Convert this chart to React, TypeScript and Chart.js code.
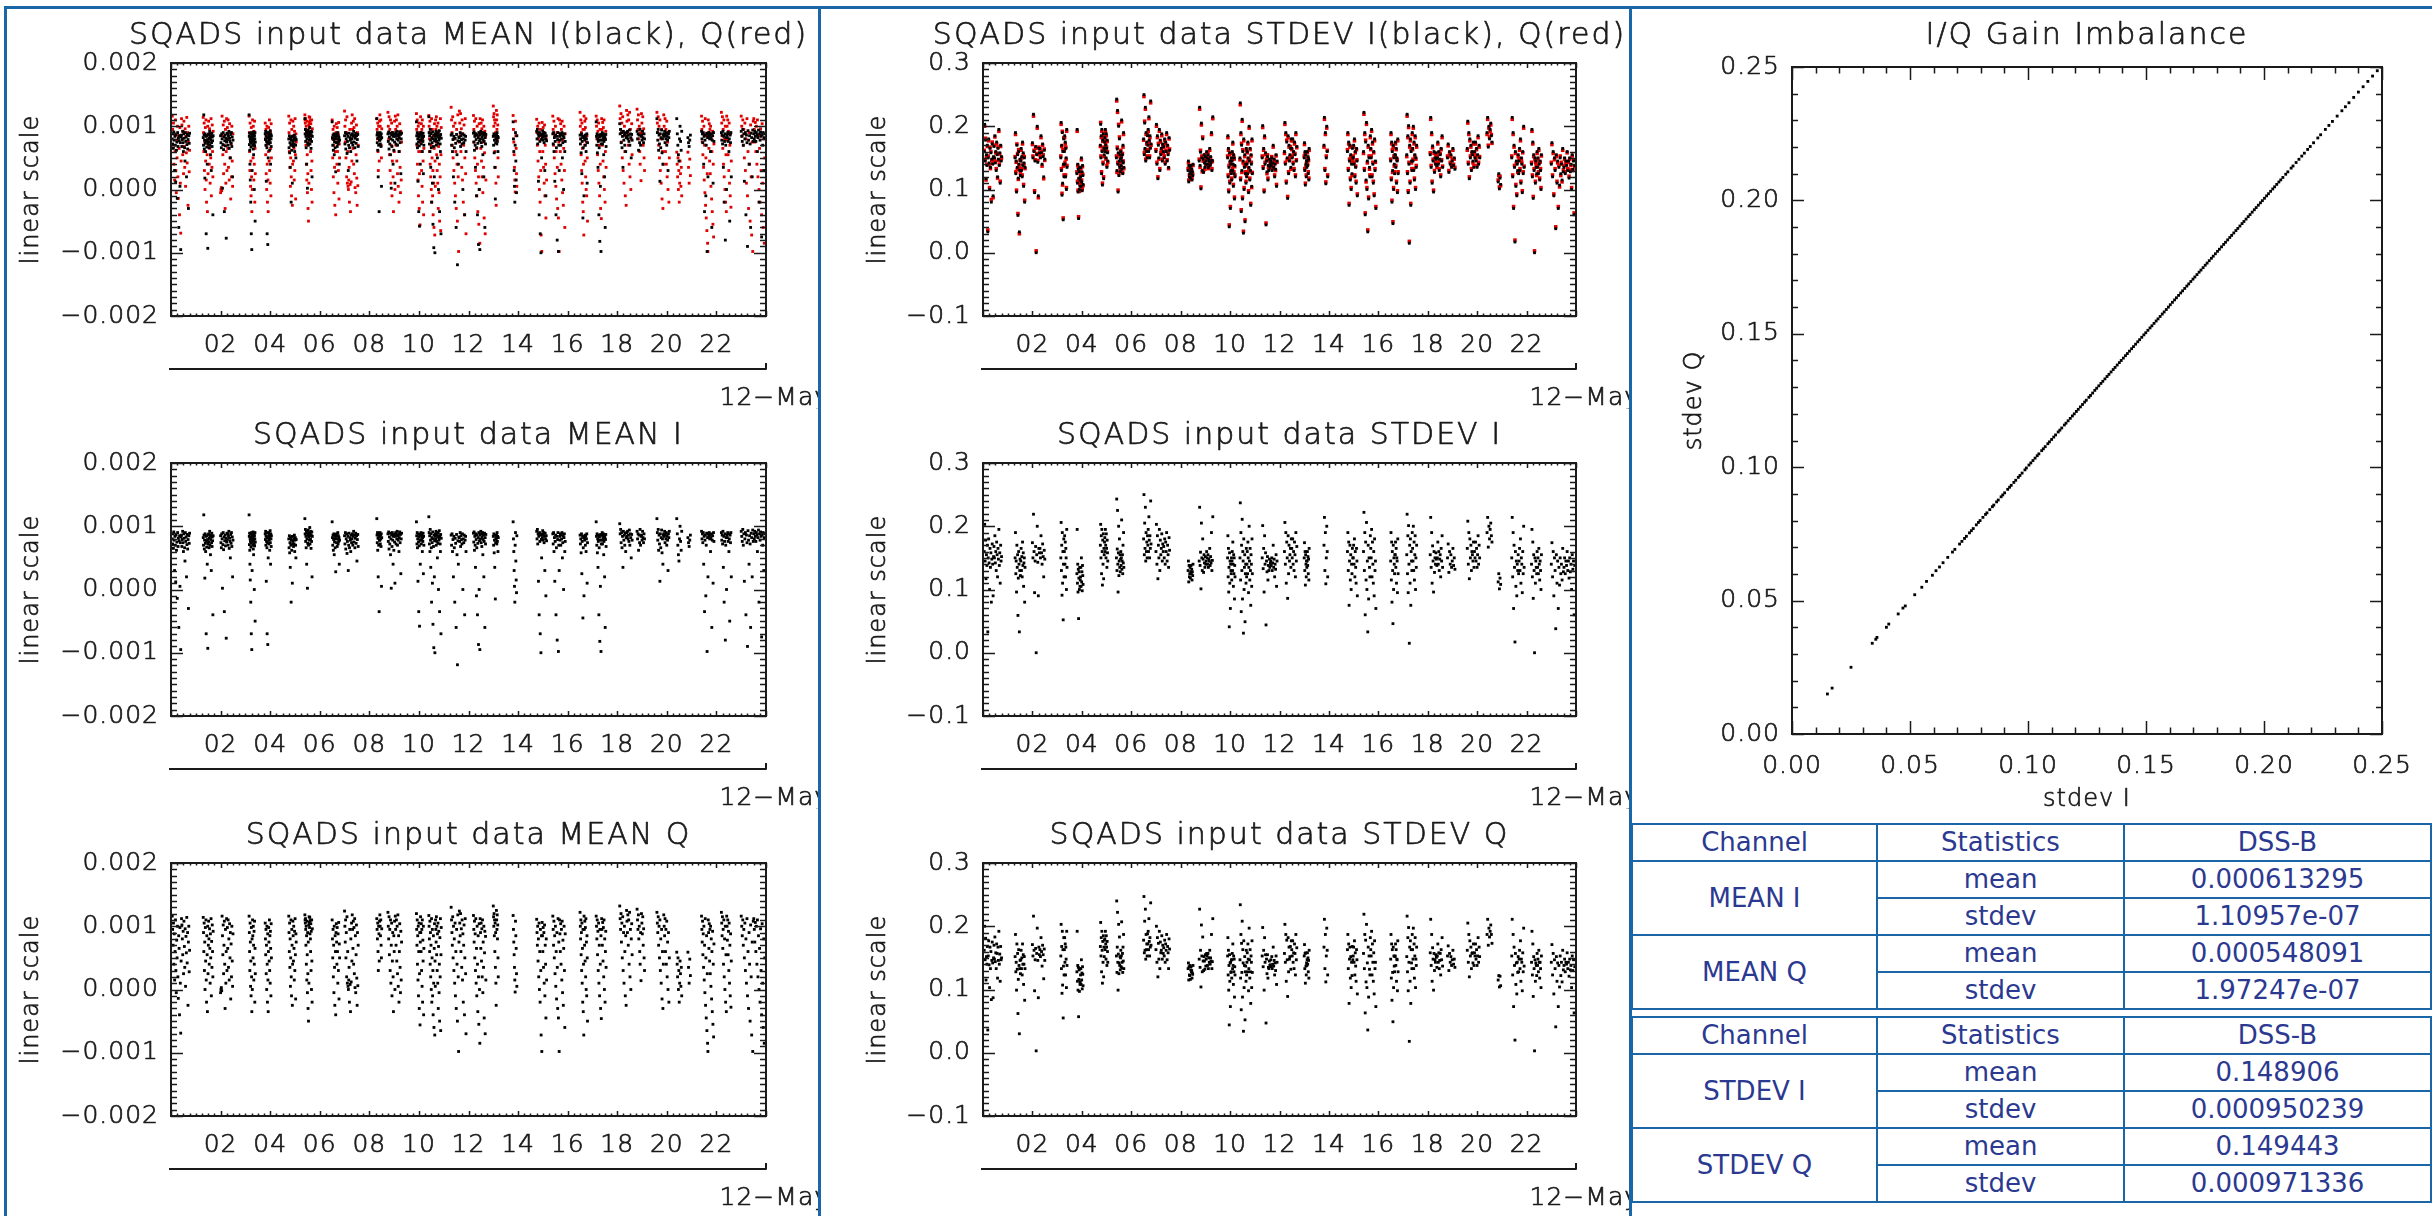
import React, { useEffect, useRef } from "react";
import { Chart, registerables } from "chart.js";

Chart.register(...registerables);

// ---------------------------------------------------------------- styling
const FONT = '"DejaVu Sans", sans-serif';
const FRAME_BLUE = "#1a66a6";
const TEXT_NAVY = "#2b3990";
const INK = "#1a1a1a";
const I_BLACK = "#000000";
const Q_RED = "#e00000";

// ---------------------------------------------------------------- axis ticks / labels
const DATE_LABEL = "12\u2212May";
const HOUR_TICK_VALUES = [2, 4, 6, 8, 10, 12, 14, 16, 18, 20, 22];
const HOUR_TICK_LABELS = ["02", "04", "06", "08", "10", "12", "14", "16", "18", "20", "22"];
const HOUR_MAJOR = [0, 2, 4, 6, 8, 10, 12, 14, 16, 18, 20, 22, 24];
const MEAN_TICK_VALUES = [-0.002, -0.001, 0, 0.001, 0.002];
const MEAN_TICK_LABELS = ["\u22120.002", "\u22120.001", "0.000", "0.001", "0.002"];
const STDEV_TICK_VALUES = [-0.1, 0, 0.1, 0.2, 0.3];
const STDEV_TICK_LABELS = ["\u22120.1", "0.0", "0.1", "0.2", "0.3"];
const GAIN_TICK_VALUES = [0, 0.05, 0.1, 0.15, 0.2, 0.25];
const GAIN_TICK_LABELS = ["0.00", "0.05", "0.10", "0.15", "0.20", "0.25"];

// ---------------------------------------------------------------- data
// acquisition segments (hours of 12-May); samples are evenly spaced inside each segment
const SEGMENT_START = [0.05, 1.3, 2.0, 3.15, 3.8, 4.75, 5.4, 6.5, 7.0, 8.3, 8.75, 9.9, 10.4, 11.3, 12.2, 13.0, 13.8, 14.75, 15.4, 16.5, 17.15, 18.1, 18.8, 19.6, 20.4, 20.85, 21.4, 22.2, 23.0];
const SEGMENT_END = [0.75, 1.7, 2.5, 3.4, 4.05, 5.05, 5.7, 6.8, 7.55, 8.5, 9.3, 10.2, 10.9, 11.9, 12.7, 13.2, 13.95, 15.15, 15.9, 16.8, 17.55, 18.6, 19.1, 20.1, 20.6, 20.95, 21.9, 22.6, 23.95];

// MEAN values in units of 1e-5
const MEAN_UNIT = 1e-5;
const MEAN_I = [
  [80, 72, 88, 65, 91, 78, 30, 84, 70, 12, 86, 62, 75, -14, 90, 68, 81, -60, 77, 85, 5, 74, -95, 83, 86, 68, 79, 92, 74, 60, 88, 81, 66, 45, 90, 76, 83, 20, 71, 87, 64, 79, -30, 85, 73, 89],
  [82, 70, 118, 86, 64, 78, 18, 88, 73, 60, 84, -70, 76, 67, 85, 40, 79, -93, 72, 87, 75, 88, 66, 81, 92, 70, 84, 55, 79, 86, 30, 74, 89, 68, 83, 77, -40, 85],
  [85, 74, 66, 88, 80, 2, 71, 90, 63, 83, -35, 77, 86, 69, 81, -77, 75, 89, 79, 88, 70, 84, 92, 65, 81, 76, 50, 87, 73, 90, 68, 83, 20, 78],
  [118, 84, 71, 89, 62, 40, 80, 15, 76, 88, -20, 67, 83, -70, 74, 90, -95, 79, 30, 86, 82, 70, 88, 76, 91, 64, 84, 55, 79, 87, 72, 0, 85, 69, 80, 90, -50, 75],
  [88, 79, 92, 70, 84, 13, 76, 90, 66, -70, 82, 74, -87, 89, 50, 81, 84, 72, 90, 78, 86, 62, 81, 93, 74, 40, 88, 80, 68, 85],
  [80, 66, 85, 58, 74, 35, 82, 70, -20, 78, 62, 84, 10, 72, 76, 84, 68, 80, 72, 86, 60, 78, 82, 70, 50, 79],
  [112, 88, 95, 76, 84, 66, 92, 40, 80, 89, 2, 73, 86, 94, 70, 83, 90, 78, 85, 98, 72, 88, 80, 92, 65, 86, 76, 91, 20, 84],
  [107, 82, 70, 86, 62, 79, 88, 55, 75, 84, 66, 80, 28, 87, 84, 74, 88, 68, 80, 90, 72, 85, 76, 82, 40, 78],
  [85, 72, 90, 64, 80, 88, 57, 76, 84, 30, 70, 89, 66, 82, 78, 60, 86, 74, 80, 88, 70, 84, 92, 75, 86, 66, 81, 89, 73, 85, 45, 79, 87, 68],
  [112, 86, 74, 90, 62, 81, 20, 88, 70, 84, -35, 78, 84, 78, 90, 72, 86, 80, 68, 88, 5, 82],
  [88, 76, 91, 64, 83, 72, 89, 55, 80, 2, 86, 68, 90, 78, 40, 84, 62, 87, 75, 10, 84, 90, 72, 86, 80, 92, 70, 85, 78, 88, 60, 82, 91, 74, 87, 25, 80, 89],
  [107, 85, 72, 90, 66, 80, 13, 87, 75, -35, 83, 69, -58, 88, 78, 40, 86, 78, 90, 72, 84, 80, 88, 60, 82, 76, 89, 25, 84, 70],
  [115, 90, 72, 85, 60, 95, 78, 35, 88, 66, -20, 82, 74, 10, 91, -55, 80, 68, -92, 86, 20, 77, -100, 84, 88, 80, 92, 70, 86, 76, 90, 50, 84, 73, 89, 0, 82, 78, 93, -35, 85, 72, 60, 87, -70, 81],
  [86, 70, 88, 60, 79, 20, 84, 66, -20, 81, 73, -60, 87, 55, -119, 77, 40, 83, 82, 76, 90, 68, 85, 79, 72, 88, 0, 80, 74, 86, -40, 78, 84, 60],
  [89, 75, 91, 62, 84, 70, 35, 88, 79, -10, 66, 86, -40, 73, 82, -87, 90, 0, 77, -95, 86, 80, 92, 74, 88, 68, 83, 90, 55, 79, 86, 20, 76, 89, -60, 82, 72, 87],
  [84, 70, 88, 58, 78, 35, 86, -15, 74, 82, 80, 86, 72, 90, 76, 84, 60, 82],
  [107, 80, 60, 30, 5, -20, 70, 90, 45, 15, -5, 85],
  [92, 80, 95, 72, 88, 13, 84, -40, 90, 76, -70, 86, -100, 79, 50, 88, 82, 93, 78, 86, 90, 74, 84, 30, 89, 80, -10, 85, 77],
  [88, 72, 90, 60, 82, 13, 76, 86, -40, 66, 84, -80, 79, 90, -98, 70, 30, 84, 78, 88, 70, 86, 80, 90, 50, 74, 85, 0, 82, 88, 60, 76],
  [86, 72, 80, 58, 88, 25, 76, 84, -45, 66, 82, -10, 82, 78, 86, 70, 84, 60, 80, 88, 10, 74],
  [107, 84, 70, 88, 58, 80, 35, 76, 86, -40, 66, 83, -82, 78, 5, 87, -98, 72, 86, 78, 90, 72, 84, 80, 88, 55, 76, 85, 20, 82, -60, 79, 87, 68],
  [104, 88, 95, 74, 90, 66, 84, 35, 92, 78, 86, 70, 89, 60, 82, 90, 84, 92, 80, 86, 76, 94, 70, 88, 82, 50, 87, 78],
  [92, 80, 88, 62, 86, 74, 95, 70, 84, 86, 78, 92, 82, 74, 88, 80],
  [112, 90, 78, 95, 62, 86, 72, 13, 88, 66, 82, 94, 58, 80, 40, 86, 88, 84, 92, 74, 86, 80, 90, 70, 84, 78, 30, 88, 82, 92],
  [112, 88, 70, 55, 45, 80, 100, 76, 62, 92],
  [82, 74, 68, 78, 86],
  [92, 80, 88, 74, 90, 40, 84, -35, 78, 86, -10, 70, 89, -98, 82, 20, 88, 84, 90, 80, 86, 60, 82, 88, -60, 78, 85, 10, 90, 76],
  [90, 78, 86, 72, 92, 35, 84, -20, 76, 88, -80, 70, 82, 0, 86, 82, 90, 76, 88, 60, 80, -50, 86, 74, 90, 20],
  [92, 84, 76, 95, 70, 88, 13, 80, 90, -40, 86, 74, -90, 93, 78, 40, 85, 72, -60, 89, 82, 20, 94, 76, 88, 80, 92, 84, 76, 90, 86, 60, 82, 94, -20, 88, 78, 91, 84, -75, 86, 70, 90, 30, 82, 88],
];
const MEAN_Q = [
  [116, 95, 70, 105, 40, 88, 15, 60, 110, 30, -5, 78, 50, 100, 20, -14, 85, 65, -40, 98, 10, -69, 45, 112, 102, 80, 55, 92, 25, 108, 68, 35, 96, 5, 84, 58, 114, 42, 90, -25, 75, 100, 28, 62],
  [114, 90, 60, 105, 30, 75, 0, 98, 45, 110, 15, -20, 85, 55, -35, 100, 25, 70, 108, 80, 40, 96, 65, 10, 88, 50, 112, -10, 76, 35, 102, 60, 20, 92],
  [-5, 0, 3, -2, 116, 85, 55, 102, 25, 70, 108, 40, -30, 95, 10, 60, 112, 30, 98, 65, 110, 35, 80, 15, 104, 50, 90, -15, 72, 20, 100, 45, 5, 88],
  [116, 90, 60, 30, 105, 75, 5, 45, -10, 98, 20, -35, 80, 0, 110, 85, 50, 100, 70, 15, 92, 40, 108, -20, 65, 25],
  [105, 80, 55, 95, 25, 70, 0, 100, 40, -20, 88, 15, -35, 60, 98, 75, 45, 110, 30, 85, 10, 92, 65, -10, 104, 50],
  [116, 90, 60, 105, 35, 80, 5, 50, 110, 20, -10, 95, 70, -25, 40, 108, 85, 45, 100, 65, 15, 92, 30, 112, 55, -15, 88, 75],
  [118, 110, 105, 112, 95, 70, 100, 40, 85, 15, 108, 55, -5, 90, 25, -30, 75, -50, 102, 10, 115, 106, 98, 114, 88, 109, 80, 60, 104, 30, 92, 0, 110, 45, -20, 96],
  [110, 80, 50, 95, 20, 70, -5, 100, 35, -25, 85, 60, -40, 90, 104, 75, 40, 98, 60, 10, 88, 30, 106, -15, 72, 50],
  [124, 100, 75, 110, 50, 90, 20, 115, 10, 60, 5, 0, 15, 35, -20, 95, 8, -35, 80, 12, 105, 45, 118, 95, 65, 108, 40, 98, 25, 112, 3, 85, -5, 55, 102, 18, -25, 90, 6, 70],
  [112, 95, 80, 105, 60, 30, 100, 88, 45, 108, 118, 100, 85, 110, 70, 50, 96],
  [122, 100, 80, 115, 55, 95, 30, 110, 10, 70, 105, -10, 45, 90, 20, -35, 85, 60, 108, 0, 116, 95, 70, 110, 45, 100, 25, 118, 5, 85, -20, 60, 104, 35, -5, 92, 15, 75],
  [120, 95, 70, 110, 40, 85, 15, 100, -10, 60, 105, -30, 25, 90, -56, 75, 115, 90, 60, 104, 30, 95, 5, 110, -20, 78, 45, 100, -40, 65],
  [117, 100, 80, 60, 108, 40, 90, 20, 70, 0, 112, -20, 50, 95, -10, 30, -40, 85, 10, -60, 65, 104, -72, 45, 5, 110, 95, 75, 115, 55, 100, 30, 88, 10, 105, -30, 68, 92, -5, 40, -50, 82, 20, 112, -65, 55, 98],
  [130, 110, 90, 70, 115, 50, 100, 30, 80, 10, 105, -10, 60, -30, 95, 40, -50, 118, 20, -98, 75, 124, 105, 85, 120, 60, 96, 35, 110, 15, 88, -20, 70, 102, -40, 50, 112, 25, -70],
  [117, 95, 75, 108, 50, 88, 30, 112, 10, 65, -10, 100, 40, -35, 85, 20, -55, 104, 0, -85, 112, 90, 65, 105, 45, 96, 20, 110, -5, 75, 35, 100, -45, 58, 92, -70, 84, 15],
  [132, 115, 100, 120, 85, 110, 60, 105, 35, 90, 10, -25, 125, 110, 95, 118, 80, 102, 50, 20],
  [117, 95, 75, 55, 35, 15, -4, 108, 85, 65, 25, 5],
  [111, 90, 70, 100, 45, 80, 20, 105, 0, 60, -20, 95, 30, -72, 85, -98, 106, 85, 60, 98, 35, 90, 10, 102, -10, 70, 40, -45, 80, 15],
  [116, 95, 70, 108, 50, 85, 25, 100, 5, 60, -15, 90, 35, -30, 112, -45, 75, -98, 110, 88, 60, 104, 40, 95, 15, 108, -5, 78, -25, 65, 100, 30, -60, 88],
  [122, 100, 80, 110, 55, 90, 30, 105, 10, 65, -20, 95, -35, 40, -72, 116, 95, 70, 108, 45, 98, 20, 112, 0, 75, -10, 85, 50, -50],
  [116, 100, 80, 110, 55, 92, 30, 105, 10, 70, -10, 95, 40, -30, 85, -46, 112, 95, 70, 106, 45, 98, 20, 110, 0, 80, -20, 60, 92, 35],
  [132, 112, 95, 120, 75, 105, 50, 115, 30, 90, 10, 100, 60, -10, 85, -25, 125, 108, 90, 118, 70, 110, 40, 122, 20, 95, 0, 80, 104, 55],
  [127, 110, 95, 118, 80, 100, 60, 40, 90, 14, 120, 105, 88, 115, 70, 96, 50, 30],
  [122, 105, 90, 115, 70, 100, 50, 110, 30, 80, 10, 95, -15, 60, -30, 40, 118, 100, 85, 112, 60, 95, 40, 108, 20, 75, 0, 90, -20, 50],
  [59, 40, 20, 50, 0, 30, -20, 10, 45, 25, 5, 35, -10],
  [59, 35, 10, 48, 22],
  [116, 95, 75, 108, 55, 88, 35, 100, 15, 70, -5, 112, -25, 50, -45, 85, -65, 25, -85, -98, 110, 90, 65, 104, 45, 95, 25, 100, 5, 80, -15, 60, -35, 92, -55, 40, -75, 72],
  [122, 105, 85, 115, 65, 95, 40, 110, 20, 80, 0, 100, -20, 55, -35, 116, 100, 78, 110, 55, 92, 30, 105, 10, 70, -10, 88, -28, 45],
  [116, 100, 85, 110, 70, 95, 50, 105, 30, 80, 10, 112, -10, 60, -30, 90, 40, -50, 102, 20, -72, 75, -98, 108, 112, 95, 75, 106, 60, 100, 40, 110, 20, 85, 0, 65, -20, 96, 30, -40, 104, 10, -60, 80, -85, 50],
];

// STDEV values in units of 1e-3
const STDEV_UNIT = 1e-3;
const STDEV_I = [
  [160, 203, 145, 178, 117, 155, 138, 170, 33, 150, 180, 142, 100, 165, 135, 158, 80, 148, 172, 140, 90, 152, 168, 150, 185, 142, 160, 130, 175, 155, 120, 165, 148, 195, 138, 158, 110, 170, 145, 152],
  [150, 190, 125, 145, 96, 170, 135, 155, 59, 118, 160, 140, 33, 130, 148, 122, 145, 165, 130, 152, 120, 175, 138, 158, 105, 142, 150, 80, 135],
  [174, 150, 219, 160, 95, 145, 168, 0, 155, 200, 143, 90, 165, 158, 165, 150, 185, 158, 140, 172, 152, 120, 162, 148],
  [150, 206, 130, 170, 91, 190, 110, 160, 52, 140, 180, 120, 160, 185, 140, 175, 120, 165, 150, 100, 195, 135],
  [125, 195, 110, 140, 96, 132, 54, 118, 128, 100, 135, 105, 115, 120, 135, 105, 150, 112, 128, 98, 138, 122, 108],
  [170, 203, 150, 185, 125, 195, 160, 107, 178, 140, 188, 117, 165, 155, 175, 182, 160, 195, 170, 150, 188, 165, 135, 178, 158, 145],
  [150, 243, 130, 164, 225, 140, 96, 158, 200, 122, 145, 180, 135, 155, 128, 148, 160, 138, 150, 210, 132, 145, 155, 125, 170, 142, 190, 135],
  [180, 250, 155, 205, 165, 230, 145, 190, 160, 175, 150, 185, 170, 195, 160, 215, 178, 150, 185, 165, 240, 172],
  [160, 203, 140, 185, 117, 170, 150, 195, 130, 178, 155, 165, 188, 145, 172, 160, 168, 150, 180, 140, 175, 160, 190, 145, 170, 155, 135, 182, 162],
  [130, 145, 112, 138, 120, 125, 135, 118, 128, 138, 125, 132, 115, 128, 122, 140],
  [145, 230, 138, 159, 101, 205, 150, 130, 180, 148, 127, 155, 142, 135, 152, 140, 145, 160, 150, 140, 155, 135, 148, 145, 165, 138, 152, 142, 190, 130, 146, 215],
  [150, 185, 120, 165, 96, 135, 41, 158, 110, 145, 70, 140, 130, 125, 150, 115, 145, 160, 130, 175, 140, 105, 155, 125, 150, 85, 138, 120],
  [150, 237, 115, 190, 65, 170, 130, 211, 85, 160, 145, 31, 180, 100, 135, 155, 49, 125, 140, 110, 165, 120, 140, 160, 125, 175, 150, 95, 135, 200, 145, 115, 165, 130, 75, 155, 140, 105, 180, 125],
  [150, 201, 133, 165, 96, 185, 140, 158, 44, 145, 128, 152, 115, 138, 130, 148, 135, 142, 145, 138, 150, 130, 142, 170, 135, 148, 120, 140, 132, 155, 105, 145],
  [160, 206, 140, 190, 110, 175, 150, 86, 185, 125, 170, 145, 155, 165, 135, 180, 165, 150, 180, 140, 160, 130, 175, 155, 120, 190, 145, 168],
  [150, 174, 130, 160, 107, 155, 140, 120, 145, 135, 145, 160, 138, 152, 125, 148, 115, 165],
  [170, 214, 130, 190, 109, 150, 200, 160, 120],
  [160, 190, 130, 175, 75, 145, 170, 115, 155, 100, 140, 125, 165, 150, 150, 170, 140, 180, 120, 160, 135, 110, 165, 145, 90],
  [160, 222, 130, 190, 60, 175, 115, 206, 100, 145, 33, 170, 85, 150, 135, 120, 185, 165, 150, 195, 120, 175, 140, 110, 160, 90, 180, 130, 145, 70],
  [145, 190, 115, 175, 80, 160, 130, 46, 170, 100, 150, 140, 125, 155, 155, 175, 135, 165, 110, 150, 145, 95, 180, 125],
  [155, 219, 125, 185, 95, 201, 140, 15, 170, 110, 180, 75, 160, 145, 130, 190, 165, 145, 200, 130, 175, 115, 155, 185, 100, 150, 135, 170],
  [155, 214, 135, 190, 110, 169, 145, 96, 160, 127, 150, 140, 158, 148, 138, 150, 175, 140, 160, 130, 148, 155, 120, 165, 145, 185, 135],
  [150, 172, 127, 160, 140, 155, 135, 145, 165, 138, 150, 132],
  [165, 208, 140, 190, 117, 180, 150, 170, 130, 160, 155, 145, 175, 135, 160, 150, 175, 145, 165, 135, 155, 185, 140, 170, 150],
  [190, 214, 167, 200, 180, 195, 205, 185, 175],
  [112, 125, 101, 118, 108],
  [150, 214, 120, 190, 70, 170, 135, 17, 160, 105, 145, 90, 140, 130, 155, 125, 145, 165, 130, 180, 110, 150, 140, 95, 160, 125, 200, 135],
  [140, 195, 120, 175, 86, 155, 130, 0, 150, 110, 145, 135, 125, 160, 135, 150, 125, 165, 140, 115, 145, 130, 100, 155],
  [140, 174, 120, 160, 90, 150, 130, 38, 155, 110, 145, 70, 135, 107, 150, 125, 140, 115, 165, 128, 135, 150, 125, 145, 138, 160, 130, 145, 118, 150, 128, 140, 100, 155, 132, 145, 60, 138],
];
const STDEV_Q = [
  [162, 200, 147, 181, 115, 152, 140, 168, 36, 153, 177, 139, 103, 167, 133, 160, 84, 146, 175, 142, 87, 150, 170, 148, 183, 144, 158, 133, 172, 157, 118, 167, 146, 192, 140, 156, 113, 168, 147, 150],
  [152, 187, 128, 143, 99, 172, 132, 157, 62, 116, 163, 138, 30, 133, 146, 125, 147, 162, 133, 150, 123, 172, 140, 155, 108, 140, 152, 83, 133],
  [171, 153, 216, 162, 98, 147, 165, 3, 157, 197, 146, 87, 167, 155, 163, 152, 182, 160, 137, 170, 155, 117, 164, 146],
  [153, 203, 133, 168, 94, 192, 107, 163, 55, 137, 182, 123, 163, 182, 143, 172, 123, 167, 148, 103, 192, 138],
  [128, 192, 113, 138, 99, 135, 57, 116, 131, 97, 133, 108, 112, 123, 133, 108, 147, 115, 126, 101, 136, 124, 106],
  [168, 206, 153, 182, 128, 192, 162, 110, 176, 143, 185, 120, 167, 152, 178, 180, 163, 192, 172, 148, 185, 167, 138, 176, 160, 143],
  [153, 240, 127, 167, 222, 143, 99, 156, 203, 125, 142, 183, 138, 152, 131, 150, 162, 136, 153, 207, 134, 143, 157, 127, 167, 145, 187, 133],
  [178, 247, 158, 208, 162, 227, 148, 187, 163, 172, 153, 188, 172, 192, 163, 212, 176, 153, 182, 167, 237, 170],
  [163, 200, 143, 182, 120, 173, 148, 192, 133, 175, 158, 162, 185, 148, 170, 157, 166, 153, 178, 143, 172, 162, 187, 147, 168, 158, 133, 180, 164],
  [133, 142, 115, 136, 123, 122, 138, 116, 131, 136, 128, 130, 118, 126, 124, 138],
  [148, 227, 135, 162, 104, 202, 153, 128, 183, 145, 130, 152, 145, 132, 155, 137, 148, 157, 153, 138, 157, 133, 150, 143, 162, 140, 150, 145, 187, 133, 144, 212],
  [153, 182, 123, 162, 99, 138, 44, 155, 113, 142, 73, 143, 127, 128, 147, 118, 147, 157, 133, 172, 138, 108, 153, 128, 148, 88, 136, 123],
  [147, 234, 118, 187, 68, 173, 127, 208, 88, 163, 142, 34, 177, 103, 138, 152, 52, 128, 137, 113, 162, 123, 143, 158, 128, 172, 148, 98, 133, 197, 147, 118, 163, 128, 78, 153, 143, 103, 177, 127],
  [153, 198, 136, 162, 99, 182, 143, 155, 47, 148, 125, 155, 118, 135, 133, 145, 138, 139, 147, 136, 152, 133, 140, 167, 137, 146, 123, 142, 130, 153, 108, 143],
  [157, 203, 143, 187, 113, 178, 147, 89, 182, 128, 167, 148, 152, 168, 132, 177, 163, 153, 177, 143, 158, 133, 172, 157, 123, 187, 147, 166],
  [153, 171, 133, 157, 110, 158, 137, 123, 142, 138, 147, 158, 140, 150, 128, 146, 118, 162],
  [167, 211, 133, 187, 112, 153, 197, 162, 123],
  [163, 187, 133, 172, 78, 148, 167, 118, 152, 103, 143, 122, 168, 147, 153, 167, 143, 177, 123, 158, 137, 113, 163, 147, 93],
  [157, 219, 133, 187, 63, 178, 112, 203, 103, 142, 36, 167, 88, 153, 132, 123, 182, 163, 153, 192, 123, 172, 143, 113, 158, 93, 177, 133, 143, 73],
  [148, 187, 118, 172, 83, 163, 127, 49, 167, 103, 153, 137, 128, 152, 153, 172, 138, 163, 113, 148, 147, 98, 177, 128],
  [152, 216, 128, 182, 98, 198, 143, 18, 167, 113, 177, 78, 163, 142, 133, 187, 163, 148, 197, 133, 172, 118, 153, 182, 103, 148, 138, 167],
  [158, 211, 138, 187, 113, 166, 148, 99, 157, 130, 147, 143, 155, 151, 135, 153, 172, 143, 158, 133, 146, 157, 123, 163, 147, 182, 137],
  [153, 169, 130, 157, 143, 152, 138, 147, 162, 140, 148, 135],
  [162, 205, 143, 187, 120, 177, 153, 167, 133, 157, 158, 142, 172, 138, 158, 153, 172, 148, 163, 138, 153, 182, 143, 167, 152],
  [187, 211, 170, 197, 183, 192, 202, 187, 173],
  [115, 122, 104, 121, 106],
  [153, 211, 123, 187, 73, 167, 138, 20, 157, 108, 142, 93, 143, 127, 152, 128, 148, 162, 133, 177, 113, 148, 143, 98, 158, 128, 197, 137],
  [143, 192, 123, 172, 89, 152, 133, 3, 147, 113, 142, 138, 122, 157, 138, 148, 128, 162, 143, 118, 143, 133, 103, 153],
  [143, 171, 123, 157, 93, 147, 133, 41, 152, 113, 142, 73, 138, 104, 153, 122, 143, 112, 162, 131, 138, 148, 128, 143, 140, 158, 133, 143, 121, 148, 131, 138, 103, 153, 130, 147, 63, 136],
];

// I/Q gain imbalance scatter (units of 1e-3), read along the diagonal
const GAIN_STDEV_I = [
  15, 17, 25, 34, 35.5, 36, 40, 41, 45, 47, 48, 52, 55, 57, 59.5, 61, 62.5, 64, 66, 68, 69, 71,
  72, 73.1, 73.9, 75.2, 76, 76.8, 78.1, 79, 79.7, 80.9, 82, 82.6, 83.8, 84.9, 85.5, 86.7, 87.4, 88.6, 89.3,
  90.1, 91.4, 92.2, 92.9, 94, 94.8, 95.9, 96.6, 97.5, 98.7, 99.3, 100.4, 101.2, 102.1, 103, 103.9, 104.6,
  105.8, 106.5, 107.3, 108.4, 109.1, 110, 110.9, 111.7, 112.8, 113.5, 114.3, 115.4, 116.1, 117, 117.9,
  118.8, 119.6, 120.5, 121.3, 122.2, 123.1, 124, 124.7, 125.8, 126.5, 127.4, 128.3, 129.1, 130, 130.9,
  131.7, 132.6, 133.5, 134.3, 135.2, 136.1, 136.9, 137.8, 138.7, 139.5, 140.4, 141.3, 142.1, 143, 143.9,
  144.7, 145.6, 146.5, 147.3, 148.2, 149.1, 149.9, 150.8, 151.7, 152.5, 153.4, 154.3, 155.1, 156, 156.9,
  157.7, 158.6, 159.5, 160.3, 161.2, 162.1, 162.9, 163.8, 164.7, 165.5, 166.4, 167.3, 168.1, 169, 169.9,
  170.7, 171.6, 172.5, 173.3, 174.2, 175.1, 175.9, 176.8, 177.7, 178.5, 179.4, 180.3, 181.1, 182, 182.9,
  183.7, 184.6, 185.5, 186.3, 187.2, 188.1, 188.9, 189.8, 190.7, 191.5, 192.4, 193.3, 194.1, 195, 195.9,
  196.7, 197.6, 198.5, 199.3, 200.2, 201.1, 201.9, 202.8, 203.7, 204.5, 205.4, 206.3, 207.1, 208, 209.2,
  210.1, 211.5, 212.3, 213.6, 214.8, 216, 217.1, 218.5, 219.6,
  221, 222.8, 224, 226, 227.5, 229, 231, 233, 234.5, 236, 238, 240, 242, 244, 246, 248, 249.5,
];
const GAIN_STDEV_Q = [
  15, 17.2, 25, 34, 35.5, 36.2, 40, 41.2, 45, 47.2, 48, 52.2, 55, 57.2, 59.5, 61.2, 62.6, 64.2, 66.2, 68.2, 69.2, 71.2,
  72.2, 73.3, 74.1, 75.4, 76.2, 77, 78.4, 79.3, 80, 81.2, 82.3, 82.9, 84.1, 85.2, 85.8, 87, 87.7, 88.9, 89.6,
  90.4, 91.7, 92.5, 93.2, 94.3, 95.1, 96.2, 96.9, 97.8, 99, 99.7, 100.8, 101.6, 102.5, 103.4, 104.3, 105,
  106.2, 106.9, 107.7, 108.8, 109.5, 110.4, 111.3, 112.1, 113.2, 113.9, 114.7, 115.8, 116.5, 117.4, 118.3,
  119.2, 120, 120.9, 121.7, 122.6, 123.5, 124.4, 125.1, 126.2, 126.9, 127.8, 128.8, 129.6, 130.5, 131.4,
  132.2, 133.1, 134, 134.8, 135.7, 136.6, 137.4, 138.3, 139.2, 140, 140.9, 141.8, 142.6, 143.5, 144.4,
  145.2, 146.1, 147, 147.8, 148.7, 149.6, 150.4, 151.3, 152.2, 153, 153.9, 154.8, 155.6, 156.5, 157.4,
  158.2, 159.1, 160, 160.9, 161.8, 162.7, 163.5, 164.4, 165.3, 166.1, 167, 167.9, 168.7, 169.6, 170.5,
  171.3, 172.2, 173.1, 173.9, 174.8, 175.7, 176.5, 177.4, 178.3, 179.1, 180, 180.9, 181.7, 182.6, 183.5,
  184.3, 185.2, 186.1, 186.9, 187.8, 188.7, 189.5, 190.4, 191.3, 192.1, 193, 193.9, 194.7, 195.6, 196.5,
  197.3, 198.2, 199.1, 199.9, 200.8, 201.7, 202.5, 203.4, 204.3, 205.1, 206, 206.9, 207.7, 208.6, 209.8,
  210.7, 212.1, 212.9, 214.2, 215.4, 216.6, 217.7, 219.1, 220.2,
  221.6, 223.4, 224.6, 226.6, 228.1, 229.6, 231.6, 233.6, 235.1, 236.6, 238.6, 240.6, 242.6, 244.6, 246.6, 248.6, 250,
];

// statistics table
const TABLE_HEADERS = ["Channel", "Statistics", "DSS-B"];
const STAT_NAMES = ["mean", "stdev"];
const MEAN_CHANNELS = ["MEAN I", "MEAN Q"];
const MEAN_TABLE_VALUES = [["0.000613295", "1.10957e-07"], ["0.000548091", "1.97247e-07"]];
const STDEV_CHANNELS = ["STDEV I", "STDEV Q"];
const STDEV_TABLE_VALUES = [["0.148906", "0.000950239"], ["0.149443", "0.000971336"]];

// ---------------------------------------------------------------- helpers
function segmentPoints(segs: number[][], unit: number) {
  const pts: { x: number; y: number }[] = [];
  segs.forEach((vals, s) => {
    const t0 = SEGMENT_START[s];
    const t1 = SEGMENT_END[s];
    vals.forEach((v, i) => {
      const t = vals.length > 1 ? t0 + ((t1 - t0) * i) / (vals.length - 1) : (t0 + t1) / 2;
      pts.push({ x: t, y: v * unit });
    });
  });
  return pts;
}

function pairPoints(xs: number[], ys: number[], unit: number) {
  return xs.map((x, i) => ({ x: x * unit, y: ys[i] * unit }));
}

type FrameCfg = {
  title: string;
  titleDy: number;
  xMin: number; xMax: number; xMajor: number[]; xMinorStep: number;
  yMin: number; yMax: number; yMajor: number[]; yMinorStep: number;
  xLabelValues: number[]; xLabels: string[]; xLabelDy: number;
  yLabelValues: number[]; yLabels: string[]; yLabelGap: number;
  yTitle: string; yTitleDx: number;
  xTitle?: string; xTitleDy?: number;
  xTickLen: number; yTickLen: number;
  dateAxis: boolean;
};

function isMajor(v: number, majors: number[], tol: number) {
  return majors.some((m) => Math.abs(m - v) < tol);
}

function setSpacing(ctx: any, px: number) {
  if ("letterSpacing" in ctx) ctx.letterSpacing = `${px}px`;
}

// thin vector-like text: light face, lightly stroked for an even line weight
function vtext(ctx: any, s: string, x: number, y: number) {
  ctx.fillText(s, x, y);
  ctx.strokeText(s, x, y);
}

function idlFramePlugin(cfg: FrameCfg) {
  return {
    id: "idlFrame",
    afterDraw(chart: any) {
      const { ctx, chartArea: a, scales } = chart;
      const xs = scales.x;
      const ys = scales.y;
      ctx.save();
      ctx.strokeStyle = INK;
      ctx.fillStyle = INK;
      // ticks
      ctx.lineWidth = 1.5;
      ctx.beginPath();
      const nx = Math.round((cfg.xMax - cfg.xMin) / cfg.xMinorStep);
      for (let i = 0; i <= nx; i++) {
        const v = cfg.xMin + i * cfg.xMinorStep;
        const px = Math.round(xs.getPixelForValue(v)) + 0.5;
        const len = isMajor(v, cfg.xMajor, cfg.xMinorStep / 10) ? cfg.xTickLen : cfg.xTickLen / 2;
        ctx.moveTo(px, a.bottom); ctx.lineTo(px, a.bottom - len);
        ctx.moveTo(px, a.top); ctx.lineTo(px, a.top + len);
      }
      const ny = Math.round((cfg.yMax - cfg.yMin) / cfg.yMinorStep);
      for (let i = 0; i <= ny; i++) {
        const v = cfg.yMin + i * cfg.yMinorStep;
        const py = Math.round(ys.getPixelForValue(v)) + 0.5;
        const len = isMajor(v, cfg.yMajor, cfg.yMinorStep / 10) ? cfg.yTickLen : cfg.yTickLen / 2;
        ctx.moveTo(a.left, py); ctx.lineTo(a.left + len, py);
        ctx.moveTo(a.right, py); ctx.lineTo(a.right - len, py);
      }
      ctx.stroke();
      // box
      ctx.lineWidth = 2;
      ctx.strokeRect(a.left, a.top, a.right - a.left, a.bottom - a.top);
      // text
      ctx.lineWidth = 0.7;
      ctx.lineJoin = "round";
      ctx.font = `300 30px ${FONT}`;
      setSpacing(ctx, 2);
      ctx.textAlign = "center";
      ctx.textBaseline = "middle";
      vtext(ctx, cfg.title, (a.left + a.right) / 2, a.top - cfg.titleDy);
      ctx.font = `300 25px ${FONT}`;
      setSpacing(ctx, 1);
      cfg.xLabelValues.forEach((v, i) => {
        vtext(ctx, cfg.xLabels[i], xs.getPixelForValue(v), a.bottom + cfg.xLabelDy);
      });
      ctx.textAlign = "right";
      cfg.yLabelValues.forEach((v, i) => {
        vtext(ctx, cfg.yLabels[i], a.left - cfg.yLabelGap, ys.getPixelForValue(v));
      });
      ctx.font = `300 24px ${FONT}`;
      ctx.textAlign = "center";
      ctx.save();
      ctx.translate(a.left - cfg.yTitleDx, (a.top + a.bottom) / 2);
      ctx.rotate(-Math.PI / 2);
      vtext(ctx, cfg.yTitle, 0, 0);
      ctx.restore();
      if (cfg.xTitle) {
        vtext(ctx, cfg.xTitle, (a.left + a.right) / 2, a.bottom + (cfg.xTitleDy || 0));
      }
      // secondary date axis
      if (cfg.dateAxis) {
        const y = a.bottom + 53;
        ctx.lineWidth = 2;
        ctx.beginPath();
        ctx.moveTo(a.left - 2, y);
        ctx.lineTo(a.right, y);
        ctx.lineTo(a.right, y - 6);
        ctx.stroke();
        ctx.lineWidth = 0.7;
        ctx.font = `300 25px ${FONT}`;
        ctx.textAlign = "right";
        vtext(ctx, DATE_LABEL, a.right + 64, a.bottom + 82);
      }
      ctx.restore();
    },
  };
}

type Series = { data: { x: number; y: number }[]; color: string; radius: number };

function ChartBox(props: {
  left: number; top: number; width: number; height: number;
  pad: { left: number; top: number; right: number; bottom: number };
  series: Series[]; frame: FrameCfg;
}) {
  const ref = useRef<HTMLCanvasElement>(null);
  useEffect(() => {
    const f = props.frame;
    const chart = new Chart(ref.current as HTMLCanvasElement, {
      type: "scatter",
      data: {
        datasets: props.series.map((s) => ({
          data: s.data,
          backgroundColor: s.color,
          borderWidth: 0,
          pointStyle: "rect",
          pointRadius: s.radius,
          pointHoverRadius: s.radius,
        })),
      },
      options: {
        animation: false,
        responsive: false,
        maintainAspectRatio: false,
        events: [],
        layout: { padding: props.pad },
        plugins: { legend: { display: false }, tooltip: { enabled: false }, title: { display: false } },
        scales: {
          x: { type: "linear", min: f.xMin, max: f.xMax, display: false },
          y: { type: "linear", min: f.yMin, max: f.yMax, display: false },
        },
      } as any,
      plugins: [idlFramePlugin(f)],
    });
    return () => chart.destroy();
  }, []);
  return (
    <canvas
      ref={ref}
      width={props.width}
      height={props.height}
      style={{ position: "absolute", left: props.left, top: props.top, width: props.width, height: props.height }}
    />
  );
}

// ---------------------------------------------------------------- layout
const COLS = [
  { cx: 7, cw: 811, bx0: 171, bx1: 766, yTitleDx: 139 },
  { cx: 821, cw: 808, bx0: 983, bx1: 1576, yTitleDx: 104 },
];
const ROW_STEP = 400;

function timePanel(col: number, row: number, title: string, series: Series[], kind: "mean" | "stdev") {
  const c = COLS[col];
  const cy = 9 + ROW_STEP * row;
  const ch = row === 2 ? 407 : 400;
  const by0 = 63 + ROW_STEP * row;
  const by1 = 316 + ROW_STEP * row;
  const isMean = kind === "mean";
  const frame: FrameCfg = {
    title,
    titleDy: 27,
    xMin: 0, xMax: 24, xMajor: HOUR_MAJOR, xMinorStep: 0.25,
    yMin: isMean ? -0.002 : -0.1,
    yMax: isMean ? 0.002 : 0.3,
    yMajor: isMean ? MEAN_TICK_VALUES : STDEV_TICK_VALUES,
    yMinorStep: isMean ? 0.0001 : 0.01,
    xLabelValues: HOUR_TICK_VALUES, xLabels: HOUR_TICK_LABELS, xLabelDy: 29,
    yLabelValues: isMean ? MEAN_TICK_VALUES : STDEV_TICK_VALUES,
    yLabels: isMean ? MEAN_TICK_LABELS : STDEV_TICK_LABELS,
    yLabelGap: 12,
    yTitle: "linear scale", yTitleDx: c.yTitleDx,
    xTickLen: 5, yTickLen: 12,
    dateAxis: true,
  };
  return (
    <ChartBox
      key={`${col}-${row}`}
      left={c.cx} top={cy} width={c.cw} height={ch}
      pad={{ left: c.bx0 - c.cx, top: by0 - cy, right: c.cx + c.cw - c.bx1, bottom: cy + ch - by1 }}
      series={series}
      frame={frame}
    />
  );
}

const cellStyle: React.CSSProperties = {
  border: `2px solid ${FRAME_BLUE}`,
  height: 35,
  padding: 0,
  textAlign: "center",
  verticalAlign: "middle",
  lineHeight: "35px",
};

function StatTable(props: { top: number; channels: string[]; values: string[][] }) {
  return (
    <table
      style={{
        position: "absolute", left: 1631, top: props.top, width: 799,
        borderCollapse: "collapse", tableLayout: "fixed",
        fontFamily: FONT, fontSize: 26, color: TEXT_NAVY,
      }}
    >
      <colgroup>
        <col style={{ width: 245 }} />
        <col style={{ width: 247 }} />
        <col style={{ width: 307 }} />
      </colgroup>
      <tbody>
        <tr>{TABLE_HEADERS.map((h) => <td key={h} style={cellStyle}>{h}</td>)}</tr>
        {props.channels.map((ch, i) =>
          STAT_NAMES.map((s, j) => (
            <tr key={ch + s}>
              {j === 0 ? <td rowSpan={2} style={cellStyle}>{ch}</td> : null}
              <td style={cellStyle}>{s}</td>
              <td style={cellStyle}>{props.values[i][j]}</td>
            </tr>
          ))
        )}
      </tbody>
    </table>
  );
}

export default function App() {
  const meanI = segmentPoints(MEAN_I, MEAN_UNIT);
  const meanQ = segmentPoints(MEAN_Q, MEAN_UNIT);
  const stdI = segmentPoints(STDEV_I, STDEV_UNIT);
  const stdQ = segmentPoints(STDEV_Q, STDEV_UNIT);
  const gain = pairPoints(GAIN_STDEV_I, GAIN_STDEV_Q, STDEV_UNIT);
  const R = 2;

  const scatterFrame: FrameCfg = {
    title: "I/Q Gain Imbalance",
    titleDy: 31,
    xMin: 0, xMax: 0.25, xMajor: GAIN_TICK_VALUES, xMinorStep: 0.01,
    yMin: 0, yMax: 0.25, yMajor: GAIN_TICK_VALUES, yMinorStep: 0.01,
    xLabelValues: GAIN_TICK_VALUES, xLabels: GAIN_TICK_LABELS, xLabelDy: 32,
    yLabelValues: GAIN_TICK_VALUES, yLabels: GAIN_TICK_LABELS, yLabelGap: 12,
    yTitle: "stdev Q", yTitleDx: 97,
    xTitle: "stdev I", xTitleDy: 66,
    xTickLen: 13, yTickLen: 12,
    dateAxis: false,
  };

  const line = (s: React.CSSProperties) => <div style={{ position: "absolute", background: FRAME_BLUE, ...s }} />;

  return (
    <div style={{ position: "fixed", left: 0, top: 0, width: 2432, height: 1216, background: "#ffffff", overflow: "hidden" }}>
      {timePanel(0, 0, "SQADS input data MEAN I(black), Q(red)", [
        { data: meanI, color: I_BLACK, radius: R },
        { data: meanQ, color: Q_RED, radius: R },
      ], "mean")}
      {timePanel(0, 1, "SQADS input data MEAN I", [{ data: meanI, color: I_BLACK, radius: R }], "mean")}
      {timePanel(0, 2, "SQADS input data MEAN Q", [{ data: meanQ, color: I_BLACK, radius: R }], "mean")}
      {timePanel(1, 0, "SQADS input data STDEV I(black), Q(red)", [
        { data: stdI, color: I_BLACK, radius: R },
        { data: stdQ, color: Q_RED, radius: 2.5 },
      ], "stdev")}
      {timePanel(1, 1, "SQADS input data STDEV I", [{ data: stdI, color: I_BLACK, radius: R }], "stdev")}
      {timePanel(1, 2, "SQADS input data STDEV Q", [{ data: stdQ, color: I_BLACK, radius: R }], "stdev")}
      <ChartBox
        left={1632} top={9} width={800} height={812}
        pad={{ left: 1792 - 1632, top: 67 - 9, right: 2432 - 2382, bottom: 821 - 734 }}
        series={[{ data: gain, color: I_BLACK, radius: 2 }]}
        frame={scatterFrame}
      />
      <StatTable top={823} channels={MEAN_CHANNELS} values={MEAN_TABLE_VALUES} />
      <StatTable top={1016} channels={STDEV_CHANNELS} values={STDEV_TABLE_VALUES} />
      {line({ left: 4, top: 6, width: 2428, height: 3 })}
      {line({ left: 4, top: 6, width: 3, height: 1210 })}
      {line({ left: 818, top: 6, width: 3, height: 1210 })}
      {line({ left: 1629, top: 6, width: 3, height: 1210 })}
    </div>
  );
}
